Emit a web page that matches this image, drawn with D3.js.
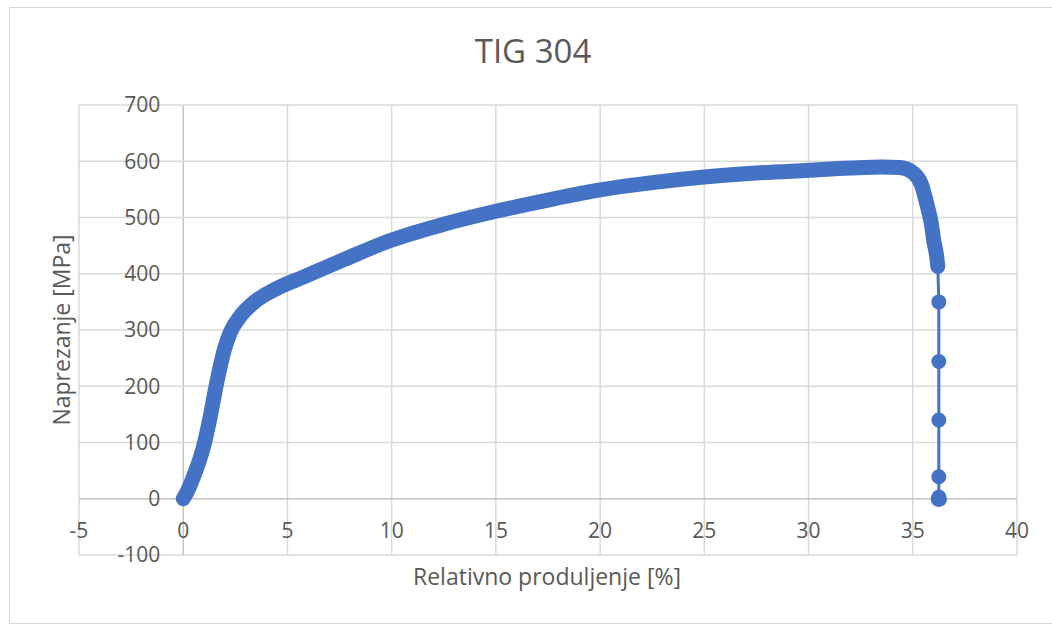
<!DOCTYPE html>
<html>
<head>
<meta charset="utf-8">
<script src="https://cdn.jsdelivr.net/npm/d3@7"></script>
<style>
    body { margin: 0; background: #fff; }
    text { font-family: "Open Sans", sans-serif; fill: #595959; }
</style>
</head>
<body>
<div id="canvas"></div>
<script>
/* DATA */
const title = "TIG 304";
const xLabel = "Relativno produljenje [%]";
const yLabel = "Naprezanje [MPa]";

const xTicks = [-5, 0, 5, 10, 15, 20, 25, 30, 35, 40];
const yTicks = [-100, 0, 100, 200, 300, 400, 500, 600, 700];

// dense part of the measurement (markers overlap into one thick band)
const strain = [0, 0.25, 0.48, 0.97, 1.29, 1.6, 1.97, 2.25, 2.73, 3.36, 4.5, 5.76, 7.7,
    10, 12.5, 15, 17.5, 20, 22.5, 25, 27.5, 30, 32, 33.5, 34.4, 35, 35.4, 35.7, 35.9, 36.0, 36.15, 36.2];
const stress = [0, 17, 38, 92, 145, 205, 265, 295, 324, 348, 374, 394, 425,
    460, 488, 511, 531, 549, 562, 572, 579, 584, 588, 590, 589, 580, 560, 520, 487, 460, 430, 413];

// sparse points after fracture
const tailStrain = [36.2, 36.25, 36.25, 36.25, 36.25, 36.25, 36.25, 36.22, 36.28];
const tailStress = [413, 350, 244, 140, 39, 3, 0, -1, -1];


/* CREATE THE SVG CANVAS */
const width = 1052;
const height = 625;

const svg = d3.select("#canvas")
    .append("svg")
    .attr("width", width)
    .attr("height", height);

// chart border
svg.append("rect")
    .attr("x", 9.5)
    .attr("y", 7.5)
    .attr("width", 1050)
    .attr("height", 616)
    .attr("fill", "none")
    .attr("stroke", "#d9d9d9");

const x = d3.scaleLinear().domain([-5, 40]).range([79, 1017]);
const y = d3.scaleLinear().domain([-100, 700]).range([555, 105]);


/* GRIDLINES */
svg.append("g")
    .selectAll("line")
    .data(xTicks)
    .join("line")
    .attr("x1", d => x(d))
    .attr("x2", d => x(d))
    .attr("y1", y(700))
    .attr("y2", y(-100))
    .attr("stroke", d => d === 0 ? "#c4c4c4" : "#d9d9d9")
    .attr("stroke-width", 1.5);

svg.append("g")
    .selectAll("line")
    .data(yTicks)
    .join("line")
    .attr("x1", x(-5))
    .attr("x2", x(40))
    .attr("y1", d => y(d))
    .attr("y2", d => y(d))
    .attr("stroke", d => d === 0 ? "#c4c4c4" : "#d9d9d9")
    .attr("stroke-width", 1.5);


/* TICK LABELS (axes cross at zero) */
svg.append("g")
    .selectAll("text")
    .data(yTicks)
    .join("text")
    .attr("x", x(0) - 23)
    .attr("y", d => y(d))
    .attr("dy", "0.35em")
    .attr("text-anchor", "end")
    .attr("font-size", 21)
    .text(d => d);

svg.append("g")
    .selectAll("text")
    .data(xTicks)
    .join("text")
    .attr("x", d => x(d))
    .attr("y", y(0) + 32)
    .attr("dy", "0.35em")
    .attr("text-anchor", "middle")
    .attr("font-size", 21)
    .text(d => d);


/* TITLES */
svg.append("text")
    .attr("x", 533)
    .attr("y", 63)
    .attr("text-anchor", "middle")
    .attr("font-size", 33)
    .text(title);

svg.append("text")
    .attr("x", 547)
    .attr("y", 585)
    .attr("text-anchor", "middle")
    .attr("font-size", 23)
    .text(xLabel);

svg.append("text")
    .attr("transform", "translate(70,330) rotate(-90)")
    .attr("text-anchor", "middle")
    .attr("font-size", 23)
    .text(yLabel);


/* THE SERIES */
const blue = "#4472C4";
const line = d3.line()
    .x(d => x(d[0]))
    .y(d => y(d[1]))
    .curve(d3.curveMonotoneX);

const dense = d3.zip(strain, stress);
const tail = d3.zip(tailStrain, tailStress);

svg.append("path")
    .attr("d", d3.line().x(d => x(d[0])).y(d => y(d[1]))(tail))
    .attr("fill", "none")
    .attr("stroke", blue)
    .attr("stroke-width", 3);

svg.append("path")
    .attr("d", line(dense))
    .attr("fill", "none")
    .attr("stroke", blue)
    .attr("stroke-width", 15)
    .attr("stroke-linecap", "round")
    .attr("stroke-linejoin", "round");

svg.append("g")
    .selectAll("circle")
    .data(tail.slice(1))
    .join("circle")
    .attr("cx", d => x(d[0]))
    .attr("cy", d => y(d[1]))
    .attr("r", 7.5)
    .attr("fill", blue);
</script>
</body>
</html>
